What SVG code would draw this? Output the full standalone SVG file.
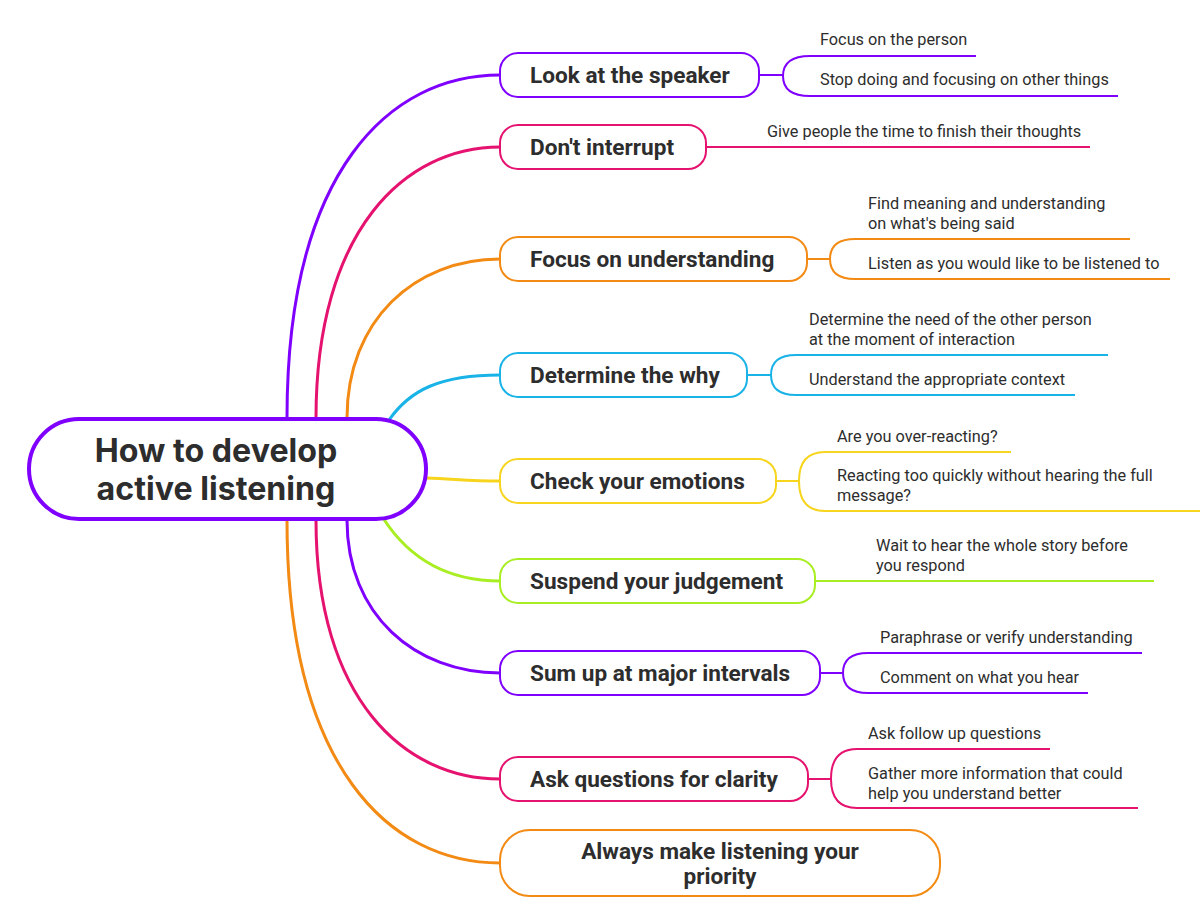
<svg xmlns="http://www.w3.org/2000/svg" width="1200" height="923" viewBox="0 0 1200 923">
<style>
.bg{fill:#ffffff}
.c{fill:none;stroke-width:3;stroke-linecap:round}
.s{fill:none;stroke-width:2}
.box{fill:#ffffff;stroke-width:2}
.bt{font-family:Roboto,"Liberation Sans",sans-serif;font-weight:700;font-size:22.6px;fill:#2d2d2d}
.st{font-family:Roboto,"Liberation Sans",sans-serif;font-size:16.3px;fill:#2d2d2d}
.ct{font-family:Inter,"Liberation Sans",sans-serif;font-weight:700;font-size:32.2px;fill:#2d2d2d}
.pu{stroke:#7f00ff}.pk{stroke:#e5126f}.or{stroke:#f28a14}.cy{stroke:#1ab3e8}.ye{stroke:#f7d51e}.li{stroke:#a8ee22}
</style>
<rect class="bg" x="0" y="0" width="1200" height="923"/>
<g id="connectors">
<path class="c pu" d="M287,418 C287,170 390,75 500,75"/>
<path class="c pk" d="M316,418 C316,230 405,147 500,147"/>
<path class="c or" d="M347,418 C347,320 415,259 500,259"/>
<path class="c cy" d="M389,420 C410,390 440,375 500,375"/>
<path class="c ye" d="M426,478 C455,479 470,481 500,481"/>
<path class="c li" d="M383,518 C410,560 450,581 500,581"/>
<path class="c pu" d="M347,520 C347,615 415,673 500,673"/>
<path class="c pk" d="M316,520 C316,700 405,779 500,779"/>
<path class="c or" d="M287,520 C287,768 390,863 500,863"/>
<path class="s pu" d="M759,75 H783"/>
<path class="s pu" d="M976,56 H810 Q783,56 783,76 Q783,96 810,96 H1118"/>
<path class="s pk" d="M706,147 H1090"/>
<path class="s or" d="M807,259 H830"/>
<path class="s or" d="M1130,239 H855 Q830,239 830,259 Q830,279 855,279 H1170"/>
<path class="s cy" d="M747,375 H771"/>
<path class="s cy" d="M1108,355 H796 Q771,355 771,375 Q771,395 796,395 H1075"/>
<path class="s ye" d="M776,481 H799"/>
<path class="s ye" d="M1011,452 H825 Q799,452 799,481 Q799,511 825,511 H1200"/>
<path class="s li" d="M815,581 H1154"/>
<path class="s pu" d="M820,673 H843"/>
<path class="s pu" d="M1142,653 H868 Q843,653 843,673 Q843,693 868,693 H1088"/>
<path class="s pk" d="M808,779 H831"/>
<path class="s pk" d="M1050,749 H857 Q831,749 831,779 Q831,808 857,808 H1138"/>
</g>
<g id="center">
<rect x="29" y="419" width="397" height="100" rx="50" fill="#ffffff" stroke="#7f00ff" stroke-width="4"/>
<text class="ct" x="216" y="462" text-anchor="middle">How to develop</text>
<text class="ct" x="216" y="500" text-anchor="middle">active listening</text>
</g>
<g id="n1"><rect class="box pu" x="500" y="53" width="259" height="44" rx="18"/><text class="bt" x="530" y="83">Look at the speaker</text></g>
<g id="n1a"><text class="st" x="820" y="45">Focus on the person</text></g>
<g id="n1b"><text class="st" x="820" y="85">Stop doing and focusing on other things</text></g>
<g id="n2"><rect class="box pk" x="500" y="125" width="206" height="44" rx="18"/><text class="bt" x="530" y="155">Don't interrupt</text></g>
<g id="n2a"><text class="st" x="767" y="137">Give people the time to finish their thoughts</text></g>
<g id="n3"><rect class="box or" x="500" y="237" width="307" height="44" rx="18"/><text class="bt" x="530" y="267">Focus on understanding</text></g>
<g id="n3a"><text class="st" x="868" y="209">Find meaning and understanding</text><text class="st" x="868" y="229">on what's being said</text></g>
<g id="n3b"><text class="st" x="868" y="269">Listen as you would like to be listened to</text></g>
<g id="n4"><rect class="box cy" x="500" y="353" width="247" height="44" rx="18"/><text class="bt" x="530" y="383">Determine the why</text></g>
<g id="n4a"><text class="st" x="809" y="325">Determine the need of the other person</text><text class="st" x="809" y="345">at the moment of interaction</text></g>
<g id="n4b"><text class="st" x="809" y="385">Understand the appropriate context</text></g>
<g id="n5"><rect class="box ye" x="500" y="459" width="276" height="44" rx="18"/><text class="bt" x="530" y="489">Check your emotions</text></g>
<g id="n5a"><text class="st" x="837" y="442">Are you over-reacting?</text></g>
<g id="n5b"><text class="st" x="837" y="481">Reacting too quickly without hearing the full</text><text class="st" x="837" y="501">message?</text></g>
<g id="n6"><rect class="box li" x="500" y="559" width="315" height="44" rx="18"/><text class="bt" x="530" y="589">Suspend your judgement</text></g>
<g id="n6a"><text class="st" x="876" y="551">Wait to hear the whole story before</text><text class="st" x="876" y="571">you respond</text></g>
<g id="n7"><rect class="box pu" x="500" y="651" width="320" height="44" rx="18"/><text class="bt" x="530" y="681">Sum up at major intervals</text></g>
<g id="n7a"><text class="st" x="880" y="643">Paraphrase or verify understanding</text></g>
<g id="n7b"><text class="st" x="880" y="683">Comment on what you hear</text></g>
<g id="n8"><rect class="box pk" x="500" y="757" width="308" height="44" rx="18"/><text class="bt" x="530" y="787">Ask questions for clarity</text></g>
<g id="n8a"><text class="st" x="868" y="739">Ask follow up questions</text></g>
<g id="n8b"><text class="st" x="868" y="779">Gather more information that could</text><text class="st" x="868" y="799">help you understand better</text></g>
<g id="n9"><rect class="box or" x="500" y="830" width="440" height="66" rx="30"/><text class="bt" x="720" y="859" text-anchor="middle">Always make listening your</text><text class="bt" x="720" y="884" text-anchor="middle">priority</text></g>
</svg>
